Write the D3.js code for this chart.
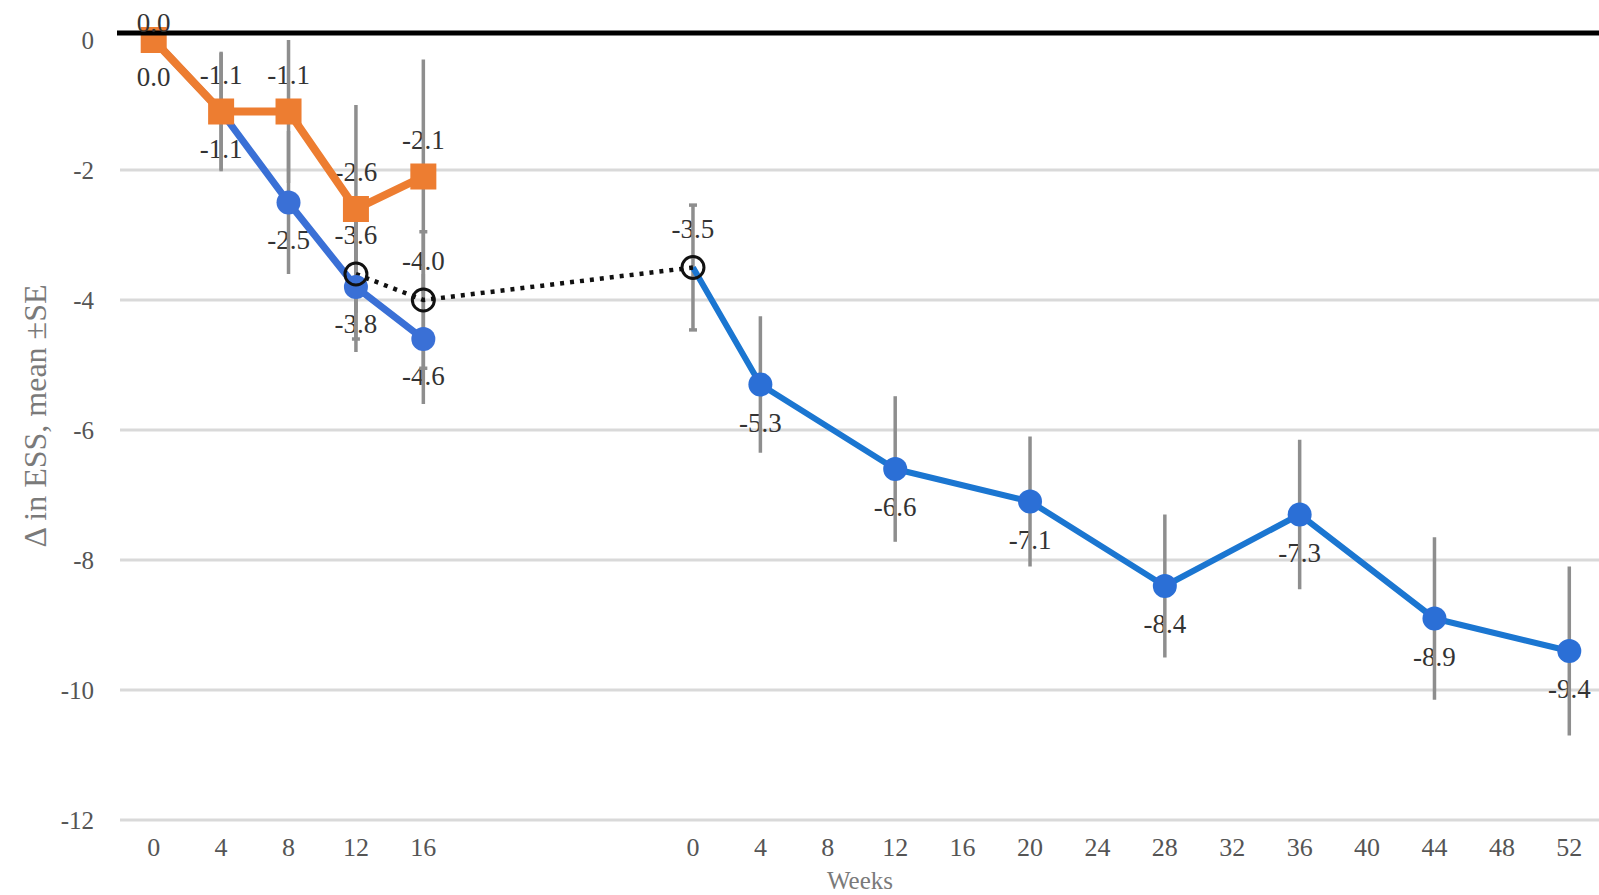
<!DOCTYPE html>
<html><head><meta charset="utf-8">
<script src="https://cdn.jsdelivr.net/npm/d3@7"></script>
<style>
html,body{margin:0;padding:0;background:#fff;overflow:hidden}
text{font-family:"Liberation Serif","DejaVu Serif",serif}
</style></head>
<body><svg id="chart" width="1599" height="895"></svg>
<script>
// ---- data ----
const categories = ["0","4","8","12","16","","","","0","4","8","12","16","20","24","28","32","36","40","44","48","52"];
const yTicks = [0,-2,-4,-6,-8,-10,-12];
const yTitle = "\u0394 in ESS, mean \u00B1SE";
const xTitle = "Weeks";
// orange (squares), first period
const orangeValues = [0.0,-1.1,-1.1,-2.6,-2.1,null,null,null,null,null,null,null,null,null,null,null,null,null,null,null,null,null];
const orangeErr    = [0,0.9,1.1,1.6,1.8,null,null,null,null,null,null,null,null,null,null,null,null,null,null,null,null,null];
// blue (circles), first period
const blueAValues  = [0.0,-1.1,-2.5,-3.8,-4.6,null,null,null,null,null,null,null,null,null,null,null,null,null,null,null,null,null];
const blueAErr     = [0,0.92,1.1,1.0,1.0,null,null,null,null,null,null,null,null,null,null,null,null,null,null,null,null,null];
// black open circles, dotted link
const blackValues  = [null,null,null,-3.6,-4.0,null,null,null,-3.5,null,null,null,null,null,null,null,null,null,null,null,null,null];
const blackErr     = [null,null,null,1.0,1.05,null,null,null,0.96,null,null,null,null,null,null,null,null,null,null,null,null,null];
// blue, extension period
const blueBValues  = [null,null,null,null,null,null,null,null,-3.5,-5.3,null,-6.6,null,-7.1,null,-8.4,null,-7.3,null,-8.9,null,-9.4];
const blueBErr     = [null,null,null,null,null,null,null,null,null,1.05,null,1.12,null,1.0,null,1.1,null,1.15,null,1.25,null,1.3];

// ---- layout ----
const svg = d3.select("#chart");
const idx = d3.range(categories.length);
const x = d3.scaleBand().domain(idx).range([120, 1603]).padding(0);
const cx = i => x(i) + x.bandwidth()/2;
const y = d3.scaleLinear().domain([0,-12]).range([40,820]);

const fmt = v => v.toFixed(1);
const pts = (vals, errs) => idx.filter(i => vals[i] != null).map(i => ({i, v: vals[i], e: errs ? errs[i] : null}));

// gridlines
svg.append("g").selectAll("line").data(yTicks.filter(t => t !== 0)).join("line")
  .attr("x1", 120).attr("x2", 1603).attr("y1", d => y(d)).attr("y2", d => y(d))
  .attr("stroke", "#d9d9d9").attr("stroke-width", 3);

// y axis labels
const yAxis = d3.axisLeft(y).tickValues(yTicks).tickSize(0).tickPadding(0).tickFormat(d => String(d));
const gy = svg.append("g").attr("transform", "translate(94,0)").call(yAxis);
gy.select(".domain").remove();
gy.selectAll("text").attr("font-size", 25).attr("fill", "#555").attr("font-family", "Liberation Serif");

// x axis labels
const xAxis = d3.axisBottom(x).tickSize(0).tickPadding(0).tickFormat(i => categories[i]);
const gx = svg.append("g").attr("transform", "translate(0,838)").call(xAxis);
gx.select(".domain").remove();
gx.selectAll("text").attr("font-size", 26).attr("fill", "#555").attr("font-family", "Liberation Serif");

// titles
svg.append("text").attr("x", 860).attr("y", 889).attr("text-anchor", "middle")
  .attr("font-size", 25).attr("fill", "#7a7a7a").text(xTitle);
svg.append("text").attr("transform", "translate(46,416) rotate(-90)").attr("text-anchor", "middle")
  .attr("font-size", 32).attr("fill", "#7a7a7a").text(yTitle);

// data labels
function labels(data, dy) {
  svg.append("g").selectAll("text").data(data).join("text")
    .attr("x", d => cx(d.i)).attr("y", d => Math.max(y(d.v) + dy, 23))
    .attr("text-anchor", "middle").attr("dominant-baseline", "central")
    .attr("font-size", 27).attr("fill", "#333").text(d => fmt(d.v));
}
const orangePts = pts(orangeValues, orangeErr);
const blueAPts = pts(blueAValues, blueAErr);
const blackPts = pts(blackValues, blackErr);
const blueBPts = pts(blueBValues, blueBErr);
labels(orangePts.slice(1), -37);
labels(blueAPts, 37);
labels(blackPts, -39);
labels(blueBPts.filter(d => blackValues[d.i] == null), 38);

// error bars
function errBars(data, cap) {
  const g = svg.append("g").attr("stroke", "#8e8e8e").attr("stroke-width", 3.5);
  const dd = data.filter(d => d.e);
  g.selectAll("line.v").data(dd).join("line").attr("class","v")
    .attr("x1", d => cx(d.i)).attr("x2", d => cx(d.i))
    .attr("y1", d => y(d.v + d.e)).attr("y2", d => y(d.v - d.e));
  if (cap) {
    ["a","b"].forEach(s => {
      g.selectAll("line.c"+s).data(dd).join("line").attr("class","c"+s)
        .attr("x1", d => cx(d.i) - cap).attr("x2", d => cx(d.i) + cap)
        .attr("y1", d => y(s=="a" ? d.v + d.e : d.v - d.e)).attr("y2", d => y(s=="a" ? d.v + d.e : d.v - d.e));
    });
  }
}
errBars(blueAPts);
errBars(orangePts);
errBars(blueBPts);
errBars(blackPts, 4);

// lines
const line = d3.line().x(d => cx(d.i)).y(d => y(d.v));
svg.append("path").datum(blueBPts).attr("d", line).attr("fill","none").attr("stroke","#1b76d1").attr("stroke-width",6).attr("stroke-linejoin","round");
svg.append("path").datum(blueAPts).attr("d", line).attr("fill","none").attr("stroke","#3a70d6").attr("stroke-width",7).attr("stroke-linejoin","round");
svg.append("path").datum(orangePts).attr("d", line).attr("fill","none").attr("stroke","#ed7d31").attr("stroke-width",8).attr("stroke-linejoin","round");
svg.append("path").datum(blackPts).attr("d", line).attr("fill","none").attr("stroke","#111").attr("stroke-width",4.5).attr("stroke-dasharray","4 6");

// markers
svg.append("g").selectAll("circle").data(blueBPts.filter(d => blackValues[d.i] == null)).join("circle")
  .attr("cx", d => cx(d.i)).attr("cy", d => y(d.v)).attr("r", 12).attr("fill", "#2b6fd6");
svg.append("g").selectAll("circle").data(blueAPts).join("circle")
  .attr("cx", d => cx(d.i)).attr("cy", d => y(d.v)).attr("r", 12).attr("fill", "#3a70d6");
svg.append("g").selectAll("rect").data(orangePts).join("rect")
  .attr("x", d => cx(d.i) - 13).attr("y", d => y(d.v) - 13).attr("width", 26).attr("height", 26).attr("fill", "#ed7d31");
svg.append("g").selectAll("circle").data(blackPts).join("circle")
  .attr("cx", d => cx(d.i)).attr("cy", d => y(d.v)).attr("r", 11).attr("fill", "none").attr("stroke", "#111").attr("stroke-width", 3);

// heavy zero line
svg.append("line").attr("x1", 117).attr("x2", 1599).attr("y1", y(0) - 7).attr("y2", y(0) - 7)
  .attr("stroke", "#000").attr("stroke-width", 5);
// first orange label sits over the zero line
labels(orangePts.slice(0, 1), -37);
</script></body></html>
